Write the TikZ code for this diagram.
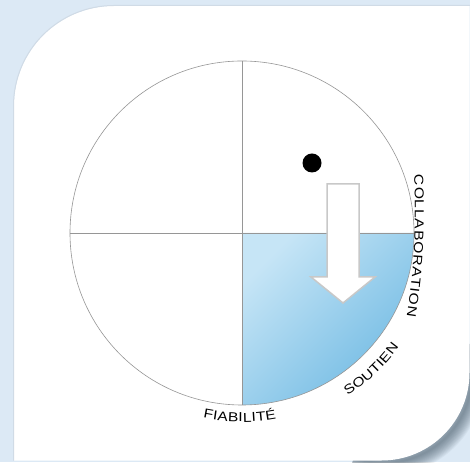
\documentclass[tikz,border=0pt]{standalone}
\usepackage{fontspec}
\setmainfont{Liberation Sans}
\usetikzlibrary{calc}
\definecolor{bgblue}{RGB}{220,233,245}
\definecolor{cardedge}{RGB}{208,219,230}
\definecolor{ringgray}{RGB}{150,150,150}
\definecolor{fillA}{RGB}{198,229,246}
\definecolor{fillC}{RGB}{112,186,227}
\definecolor{arrowgray}{RGB}{200,200,200}
\definecolor{shadowc}{RGB}{55,75,90}
\tikzset{
  lettr/.style={inner sep=0pt, anchor=base, font=\fontsize{13}{15}\selectfont, text=black},
  ringline/.style={draw=ringgray, line width=0.6pt},
  cardshape/.style={fill=white}
}
\def\lblsize{13}
\def\lblk{1.2}
% #1 centre, #2 radius, #3 start angle, #4 +1 ccw / -1 cw, #5 rotation offset, #6 name prefix, #7 list letter/width
\newcommand{\curvedlabel}[7]{%
  \gdef\lblpos{0}%
  \foreach \ch/\w [count=\i] in {#7}{%
    \pgfmathsetmacro{\lblmid}{\lblpos + \w*\lblsize*\lblk/2}%
    \pgfmathsetmacro{\lblang}{#3 + #4*\lblmid/#2*180/pi}%
    \pgfmathsetmacro{\lblrot}{\lblang + #5}%
    \node[lettr, rotate=\lblrot] (#6\i) at ($(#1)+(\lblang:#2)$) {\scalebox{\lblk}[1]{\ch}};%
    \pgfmathsetmacro{\lblnext}{\lblpos + \w*\lblsize*\lblk + \lbltrack}%
    \xdef\lblpos{\lblnext}%
  }%
}
\begin{document}
\begin{tikzpicture}[x=1pt,y=1pt]
\useasboundingbox (0,0) rectangle (470,462);
\fill[bgblue] (0,0) rectangle (470,462);
% soft shadow around the lower right corner
\foreach \w in {2,4,...,26}{
  \draw[shadowc, opacity=0.055, line width=\w pt]
    (381.5+2.5,89.5-2.5) ++(-110:88) arc[start angle=-110,end angle=20,radius=88];
}
% card
\path[cardshape]
  (14,1.5) -- (14,356) arc[start angle=180,end angle=90,radius=100] -- (469.5,456)
  -- (469.5,89.5) arc[start angle=0,end angle=-90,radius=88] -- cycle;
\draw[cardedge, line width=1pt] (13.5,1.5) -- (13.5,356) arc[start angle=180,end angle=90,radius=100.5] -- (470,456.5);
% circle
\coordinate (O) at (242,229);
\coordinate (T) at (242,401);
\coordinate (B) at (242,57);
\coordinate (L) at (70,229);
\coordinate (R) at (414,229);
\coordinate (Q) at (-285,252);
\shade[top color=fillA, bottom color=fillC, shading angle=45]
  (O) -- (R) arc[start angle=0,end angle=-90,radius=172] -- cycle;
\draw[ringline] (O) circle[radius=172];
\draw[ringline] (T) -- (B);
\draw[ringline] (L) -- (R);
% dot and arrow
\fill[black] (312,299) circle[radius=9.5];
\draw[arrowgray, fill=white, line width=1.5pt, line join=miter]
  (327,278) -- (359,278) -- (359,185) -- (375,185) -- (343,159) -- (311,185) -- (327,185) -- cycle;
% labels
\def\lbltrack{0.8}
\curvedlabel{Q}{700}{2.87}{-1}{-90}{col}{C/.722,O/.778,L/.556,L/.556,A/.667,B/.667,O/.778,R/.722,A/.667,T/.611,I/.278,O/.778,N/.722}
\def\lbltrack{0.3}
\curvedlabel{O}{194}{-57}{1}{90}{sou}{S/.667,O/.778,U/.722,T/.611,I/.278,E/.667,N/.722}
\def\lbltrack{0.25}
\curvedlabel{O}{189}{-101.9}{1}{90}{fia}{F/.611,I/.278,A/.667,B/.667,I/.278,L/.556,I/.278,T/.611,É/.667}
\end{tikzpicture}
\end{document}
